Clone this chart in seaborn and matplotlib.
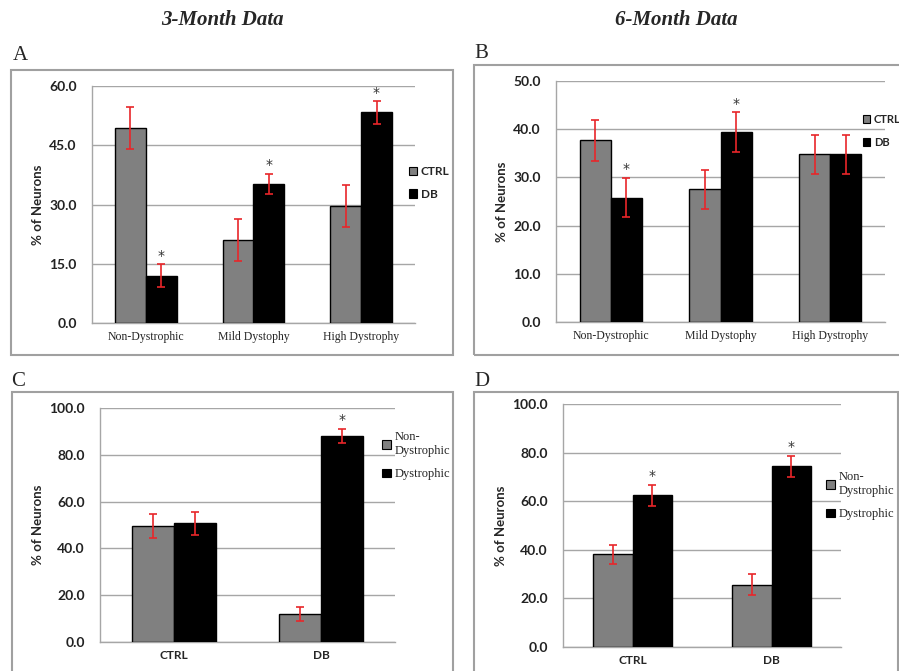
import matplotlib
matplotlib.use("Agg")
import matplotlib.pyplot as plt
import pandas as pd
import seaborn as sns
from matplotlib.patches import Rectangle, Patch

# Dane (% neuronów, średnia i błąd)
dys_cats = ['Non-Dystrophic', 'Mild Dystophy', 'High Dystrophy']
grp_labels = ['CTRL', 'DB']

a_ctrl = [49.4, 21.1, 29.6]
a_ctrl_err = [5.3, 5.3, 5.3]
a_db = [12.0, 35.2, 53.3]
a_db_err = [2.9, 2.6, 2.9]
a_db_sig = [True, True, True]

b_ctrl = [37.7, 27.5, 34.8]
b_ctrl_err = [4.2, 4.0, 4.1]
b_db = [25.8, 39.4, 34.8]
b_db_err = [4.1, 4.1, 4.1]
b_db_sig = [True, True, False]

state_labels = ['Non-\nDystrophic', 'Dystrophic']

c_non = [49.7, 12.0]
c_non_err = [5.1, 3.1]
c_dys = [50.7, 88.1]
c_dys_err = [5.0, 3.1]
c_dys_sig = [False, True]

d_non = [38.1, 25.7]
d_non_err = [4.0, 4.5]
d_dys = [62.4, 74.3]
d_dys_err = [4.4, 4.4]
d_dys_sig = [True, True]

W, H = 899, 671
GRID = '#a6a6a6'


def px_axes(fig, l, t, r, b):
    return fig.add_axes([l / W, 1 - b / H, (r - l) / W, (b - t) / H])


def px_box(fig, l, t, r, b):
    fig.patches.append(Rectangle((l / W, 1 - b / H), (r - l) / W, (b - t) / H,
                                 transform=fig.transFigure, fill=False,
                                 edgecolor='#a0a0a0', linewidth=1.5, zorder=0))


def panel(fig, ax, cats, hues, vals, errs, sigs, ymax, step, cat_font, leg_pos):
    rows = []
    for h, v in zip(hues, vals):
        for c, y in zip(cats, v):
            rows.append({'cat': c, 'grp': h, 'val': y})
    df = pd.DataFrame(rows)
    pal = {hues[0]: '#808080', hues[1]: 'black'}
    sns.barplot(data=df, x='cat', y='val', hue='grp', palette=pal, width=0.57,
                edgecolor='black', linewidth=1.0, errorbar=None, legend=False,
                ax=ax, zorder=3)

    for cont, err, sig in zip(ax.containers, errs, sigs):
        xs = [p.get_x() + p.get_width() / 2 for p in cont]
        ys = [p.get_height() for p in cont]
        ax.errorbar(xs, ys, yerr=err, fmt='none', ecolor='#e8262a',
                    elinewidth=1.2, capsize=3, capthick=1.2, zorder=4)
        for x, y, e, s in zip(xs, ys, err, sig):
            if s:
                ax.annotate('*', (x, y + e), xytext=(0, 1), textcoords='offset points',
                            ha='center', va='bottom', fontsize=10, color='#333333')

    ax.set_ylim(0, ymax)
    ax.set_xlim(-0.5, len(cats) - 0.5)
    ax.set_yticks([i * step for i in range(int(ymax / step) + 1)])
    ax.set_yticklabels([f'{t:.1f}' for t in ax.get_yticks()], fontfamily='Lato',
                       fontweight='bold', fontsize=10, color='#222222')
    ax.grid(axis='y', color=GRID, linewidth=1.0, zorder=0)
    ax.set_axisbelow(True)
    ax.set_xlabel('')
    ax.set_ylabel('% of Neurons', fontfamily='Lato', fontweight='bold', fontsize=9.5)
    ax.set_xticks(range(len(cats)))
    ax.set_xticklabels(cats, **cat_font)
    ax.set_xticks([i - 0.5 for i in range(len(cats) + 1)], minor=True)
    ax.tick_params(axis='x', which='major', length=0, pad=6)
    ax.tick_params(axis='x', which='minor', length=4, color=GRID, direction='out')
    ax.tick_params(axis='y', length=4, color=GRID, pad=7)
    for s in ['top', 'right']:
        ax.spines[s].set_visible(False)
    for s in ['left', 'bottom']:
        ax.spines[s].set_color(GRID)
        ax.spines[s].set_linewidth(1.0)

    handles = [Patch(facecolor=pal[h], edgecolor='black', linewidth=0.8) for h in hues]
    fig = ax.figure
    leg = fig.legend(handles, hues, loc='upper left',
                     bbox_to_anchor=(leg_pos[0] / W, 1 - leg_pos[1] / H),
                     frameon=False, handlelength=0.7, handleheight=0.7,
                     handletextpad=0.3, labelspacing=leg_pos[2], borderpad=0,
                     prop=leg_pos[3])
    return leg


sns.set_style('white')
fig = plt.figure(figsize=(W / 100, H / 100), dpi=100)

px_box(fig, 11, 70, 453, 355)
px_box(fig, 474, 65, 905, 355)
px_box(fig, 12, 392, 453, 680)
px_box(fig, 474, 392, 898, 680)

title_font = dict(fontfamily='Liberation Serif', fontweight='bold', fontstyle='italic', fontsize=15)
fig.text(222 / W, 1 - 20 / H, '3-Month Data', ha='center', va='center', **title_font)
fig.text(676 / W, 1 - 20 / H, '6-Month Data', ha='center', va='center', **title_font)
letter_font = dict(fontfamily='Liberation Serif', fontsize=15)
fig.text(13 / W, 1 - 55 / H, 'A', ha='left', va='center', **letter_font)
fig.text(474 / W, 1 - 53 / H, 'B', ha='left', va='center', **letter_font)
fig.text(11 / W, 1 - 382 / H, 'C', ha='left', va='center', **letter_font)
fig.text(474 / W, 1 - 381 / H, 'D', ha='left', va='center', **letter_font)

serif_cat = dict(fontfamily='Liberation Serif', fontsize=8.5)
sans_cat = dict(fontfamily='Lato', fontweight='bold', fontsize=8.5)
leg_sans = {'family': 'Lato', 'size': 8.5, 'weight': 'bold'}
leg_sans_b = {'family': 'Lato', 'size': 8, 'weight': 'bold'}
leg_serif = {'family': 'Liberation Serif', 'size': 9}

ax_a = px_axes(fig, 92, 86, 415, 323)
panel(fig, ax_a, dys_cats, grp_labels, [a_ctrl, a_db], [a_ctrl_err, a_db_err],
      [[False] * 3, a_db_sig], 60, 15, serif_cat, (403, 160, 1.0, leg_sans))

ax_b = px_axes(fig, 556, 81, 885, 322)
panel(fig, ax_b, dys_cats, grp_labels, [b_ctrl, b_db], [b_ctrl_err, b_db_err],
      [[False] * 3, b_db_sig], 50, 10, serif_cat, (857, 108, 1.1, leg_sans_b))

ax_c = px_axes(fig, 100, 408, 395, 642)
panel(fig, ax_c, grp_labels, state_labels, [c_non, c_dys], [c_non_err, c_dys_err],
      [[False] * 2, c_dys_sig], 100, 20, sans_cat, (376, 425, 0.9, leg_serif))

ax_d = px_axes(fig, 563, 404, 841, 647)
panel(fig, ax_d, grp_labels, state_labels, [d_non, d_dys], [d_non_err, d_dys_err],
      [[False] * 2, d_dys_sig], 100, 20, sans_cat, (820, 465, 0.9, leg_serif))

fig.savefig('out.png', dpi=100)
plt.close(fig)
